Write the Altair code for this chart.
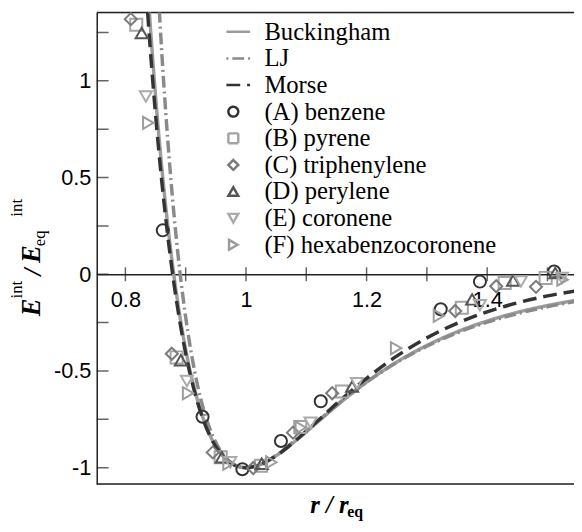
import altair as alt
import pandas as pd

# ---------------- data ----------------
SERIES = ["Buckingham", "LJ", "Morse", "(A) benzene", "(B) pyrene",
          "(C) triphenylene", "(D) perylene", "(E) coronene",
          "(F) hexabenzocoronene"]
COLORS = ["#9c9c9c", "#8a8a8a", "#333333", "#333333", "#a3a3a3",
          "#7a7a7a", "#555555", "#ababab", "#9c9c9c"]
SHAPES = ["M-1.4,0L3.4,0", "M-1.4,0L3.4,0", "M-1.4,0L3.4,0",
          "circle", "square", "diamond", "triangle-up", "triangle-down",
          "triangle-right"]
DASHES = [[1, 0], [2, 4, 12, 4], [14, 7], [1, 0], [1, 0], [1, 0], [1, 0],
          [1, 0], [1, 0]]

BUCK_R = [0.835, 0.84, 0.85, 0.86, 0.87, 0.88, 0.89, 0.90, 0.92, 0.94, 0.96,
          0.98, 1.00, 1.02, 1.05, 1.08, 1.12, 1.16, 1.20, 1.25, 1.30, 1.35,
          1.40, 1.45, 1.50, 1.55]
BUCK_E = [1.570, 1.343, 0.922, 0.564, 0.261, 0.005, -0.210, -0.389, -0.656,
          -0.830, -0.933, -0.985, -1.0, -0.988, -0.938, -0.867, -0.761,
          -0.655, -0.558, -0.454, -0.368, -0.298, -0.242, -0.197, -0.162,
          -0.133]
LJ_R = [0.85, 0.86, 0.87, 0.88, 0.89, 0.90, 0.92, 0.94, 0.96, 0.98, 1.00,
        1.02, 1.05, 1.08, 1.12, 1.16, 1.20, 1.25, 1.30, 1.35, 1.40, 1.45,
        1.50, 1.55]
LJ_E = [1.729, 1.165, 0.706, 0.329, 0.024, -0.222, -0.579, -0.798, -0.923,
        -0.983, -1.0, -0.988, -0.936, -0.863, -0.757, -0.652, -0.558, -0.456,
        -0.372, -0.303, -0.248, -0.204, -0.168, -0.139]
MORSE_R = [0.83, 0.84, 0.85, 0.86, 0.87, 0.88, 0.89, 0.90, 0.92, 0.94, 0.96,
           0.98, 1.00, 1.02, 1.05, 1.08, 1.12, 1.16, 1.20, 1.25, 1.30, 1.35,
           1.40, 1.45, 1.50, 1.55]
MORSE_E = [1.673, 1.218, 0.826, 0.491, 0.206, -0.036, -0.240, -0.410,
           -0.666, -0.834, -0.934, -0.985, -1.0, -0.988, -0.939, -0.866,
           -0.755, -0.642, -0.538, -0.423, -0.329, -0.254, -0.194, -0.148,
           -0.112, -0.085]

A_R = [0.862, 0.928, 0.994, 1.058, 1.124, 1.323, 1.388, 1.511]
A_E = [0.227, -0.737, -1.008, -0.862, -0.657, -0.181, -0.038, 0.014]
B_R = [0.818, 0.885, 0.958, 1.025, 1.090, 1.159, 1.358, 1.429, 1.497]
B_E = [1.290, -0.430, -0.946, -0.990, -0.790, -0.606, -0.173, -0.045, -0.019]
C_R = [0.809, 0.877, 0.945, 1.012, 1.078, 1.143, 1.347, 1.415, 1.481]
C_E = [1.319, -0.411, -0.921, -1.002, -0.819, -0.615, -0.190, -0.062, -0.065]
D_R = [0.827, 0.892, 0.960, 1.026, 1.176, 1.375, 1.443, 1.513]
D_E = [1.247, -0.445, -0.946, -0.980, -0.581, -0.130, -0.032, 0.006]
E_R = [0.834, 0.902, 0.974, 1.107, 1.184, 1.388, 1.456, 1.524]
E_E = [0.919, -0.552, -0.972, -0.768, -0.564, -0.160, -0.037, -0.019]
F_R = [0.838, 0.904, 0.971, 1.042, 1.091, 1.249, 1.320, 1.525]
F_E = [0.783, -0.615, -0.980, -0.972, -0.793, -0.382, -0.215, -0.028]

X_DOMAIN = [0.7525, 1.544]
Y_DOMAIN = [-1.084, 1.353]
X_LABELS = [0.8, 1.0, 1.2, 1.4]
X_TICKS = [0.8, 0.9, 1.0, 1.1, 1.2, 1.3, 1.4, 1.5]
Y_LABELS = [-1, -0.5, 0, 0.5, 1]
Y_TICKS = [-1, -0.75, -0.5, -0.25, 0, 0.25, 0.5, 0.75, 1, 1.25]

# ---------------- tables ----------------
lines = pd.concat([
    pd.DataFrame({"r": BUCK_R, "E": BUCK_E, "series": SERIES[0]}),
    pd.DataFrame({"r": LJ_R, "E": LJ_E, "series": SERIES[1]}),
    pd.DataFrame({"r": MORSE_R, "E": MORSE_E, "series": SERIES[2]}),
])
pts = pd.concat([
    pd.DataFrame({"r": A_R, "E": A_E, "series": SERIES[3]}),
    pd.DataFrame({"r": B_R, "E": B_E, "series": SERIES[4]}),
    pd.DataFrame({"r": C_R, "E": C_E, "series": SERIES[5]}),
    pd.DataFrame({"r": D_R, "E": D_E, "series": SERIES[6]}),
    pd.DataFrame({"r": E_R, "E": E_E, "series": SERIES[7]}),
    pd.DataFrame({"r": F_R, "E": F_E, "series": SERIES[8]}),
])
yticks = pd.DataFrame({"r": X_DOMAIN[0], "E": Y_TICKS})
xticks = pd.DataFrame({"r": X_TICKS, "E": 0.0})
borders = pd.DataFrame({"E": Y_DOMAIN})
one = pd.DataFrame({"a": [0]})

W, H = 484, 478
AXIS_OFFSET = -(0 - Y_DOMAIN[0]) / (Y_DOMAIN[1] - Y_DOMAIN[0]) * H

SANS = "Liberation Sans"
SERIF = "Liberation Serif"

X = alt.X("r:Q", scale=alt.Scale(domain=X_DOMAIN, nice=False, zero=False),
          axis=alt.Axis(values=X_LABELS, offset=AXIS_OFFSET, ticks=False,
                        grid=False, title=None, labelFont=SANS,
                        labelFontSize=22, labelColor="black", labelPadding=16,
                        domainColor="#222222", domainWidth=1.5, format="~g"))
Y = alt.Y("E:Q", scale=alt.Scale(domain=Y_DOMAIN, nice=False, zero=False),
          axis=alt.Axis(values=Y_LABELS, ticks=False, grid=False, title=None,
                        labelFont=SANS, labelFontSize=22, labelColor="black",
                        labelPadding=6, domainColor="#222222", domainWidth=1.5,
                        labelExpr="datum.value < 0 ? '-' + format(-datum.value, '~g') : format(datum.value, '~g')"))

LEG = alt.Legend(title=None, orient="none", legendX=126, legendY=7,
                 labelFont=SERIF, labelFontSize=25, labelColor="black",
                 symbolSize=100, symbolStrokeWidth=2.5, rowPadding=1,
                 labelOffset=19, padding=0, labelLimit=400)

color = alt.Color("series:N", scale=alt.Scale(domain=SERIES, range=COLORS),
                  legend=LEG)
shape = alt.Shape("series:N", scale=alt.Scale(domain=SERIES, range=SHAPES),
                  legend=LEG)
dash = alt.StrokeDash("series:N", scale=alt.Scale(domain=SERIES, range=DASHES),
                      legend=LEG)

border_layer = alt.Chart(borders).mark_rule(color="#222222", strokeWidth=1.5).encode(y=Y)
ytick_layer = alt.Chart(yticks).mark_tick(orient="horizontal", size=24,
                                          thickness=1.5, clip=True,
                                          color="#222222").encode(x=X, y=Y)
xtick_layer = alt.Chart(xticks).mark_tick(orient="vertical", size=14,
                                          thickness=1.5,
                                          color="#222222").encode(x=X, y=Y)
line_layer = alt.Chart(lines).mark_line(clip=True, strokeWidth=3.5,
                                        interpolate="monotone").encode(
    x=X, y=Y, color=color, strokeDash=dash)
point_layer = alt.Chart(pts).mark_point(filled=False, size=150, strokeWidth=2,
                                        opacity=1).encode(
    x=X, y=Y, color=color, shape=shape)


def txt(s, x, y, size, angle=0, style="normal", weight="normal"):
    return alt.Chart(one).mark_text(
        text=s, font=SERIF, fontSize=size, fontStyle=style, fontWeight=weight,
        angle=angle, align="center", baseline="middle", color="black"
    ).encode(x=alt.value(x), y=alt.value(y))


titles = [
    txt("E", -66, 299, 27, 270, "italic", "bold"),
    txt("int", -81, 281, 17, 270),
    txt("/", -65, 263, 26, 270, "italic", "bold"),
    txt("E", -66, 245, 27, 270, "italic", "bold"),
    txt("eq", -57, 229, 17, 270),
    txt("int", -81, 198, 17, 270),
    txt("r / r", 236, 500, 25, 0, "italic", "bold"),
    txt("eq", 262, 507, 16, 0, "normal", "bold"),
]

chart = alt.layer(border_layer, ytick_layer, xtick_layer, line_layer,
                  point_layer, *titles).properties(
    width=W, height=H,
    autosize=alt.AutoSizeParams(type="none"),
    padding={"left": 90, "top": 1, "right": 0, "bottom": 35},
).configure_view(stroke=None).configure(background="white")

chart.save("out.html", embed_options={"renderer": "svg", "actions": False})
